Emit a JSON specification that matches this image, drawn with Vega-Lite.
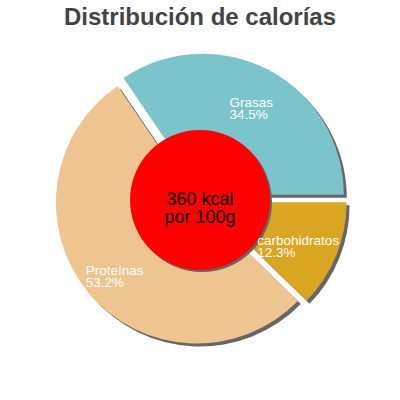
{
  "$schema": "https://vega.github.io/schema/vega-lite/v6.json",
  "width": 400,
  "height": 332,
  "autosize": "none",
  "padding": {"top": 34, "left": 0, "right": 0, "bottom": 0},
  "background": "white",
  "config": {"view": {"stroke": null}},
  "title": {
    "text": "Distribución de calorías",
    "font": "Liberation Sans",
    "fontSize": 24,
    "fontWeight": "bold",
    "color": "#444444",
    "anchor": "middle",
    "frame": "group",
    "offset": 4
  },
  "data": {
    "values": [
      {"nutriente": "carbohidratos", "porcentaje": 12.3, "orden": 1},
      {"nutriente": "Proteínas", "porcentaje": 53.2, "orden": 2},
      {"nutriente": "Grasas", "porcentaje": 34.5, "orden": 3}
    ]
  },
  "transform": [
    {"stack": "porcentaje", "groupby": [], "sort": [{"field": "orden", "order": "ascending"}], "as": ["t0", "t1"]},
    {"calculate": "(datum.t0 + datum.t1) / 2", "as": "tm"},
    {"calculate": "[datum.nutriente, format(datum.porcentaje, '.1f') + '%']", "as": "etiqueta"}
  ],
  "layer": [
    {
      "transform": [{"filter": "datum.nutriente == 'Grasas'"}],
      "mark": {"type": "arc", "outerRadius": 141, "color": "#666666", "xOffset": 5.8, "yOffset": -2.3},
      "encoding": {
        "theta": {"field": "t0", "type": "quantitative", "scale": {"domain": [0, 100], "range": [1.5707963, 7.8539816]}},
        "theta2": {"field": "t1"}
      }
    },
    {
      "transform": [{"filter": "datum.nutriente == 'carbohidratos'"}],
      "mark": {"type": "arc", "outerRadius": 141, "color": "#666666", "xOffset": 8.6, "yOffset": 5.3},
      "encoding": {
        "theta": {"field": "t0", "type": "quantitative"},
        "theta2": {"field": "t1"}
      }
    },
    {
      "transform": [{"filter": "datum.nutriente == 'Proteínas'"}],
      "mark": {"type": "arc", "outerRadius": 141, "color": "#666666", "xOffset": -0.1, "yOffset": 5.6},
      "encoding": {
        "theta": {"field": "t0", "type": "quantitative"},
        "theta2": {"field": "t1"}
      }
    },
    {
      "transform": [{"filter": "datum.nutriente == 'Grasas'"}],
      "mark": {"type": "arc", "outerRadius": 141, "color": "#7BC4CC", "xOffset": 2.8, "yOffset": -5.3},
      "encoding": {
        "theta": {"field": "t0", "type": "quantitative"},
        "theta2": {"field": "t1"}
      }
    },
    {
      "transform": [{"filter": "datum.nutriente == 'carbohidratos'"}],
      "mark": {"type": "arc", "outerRadius": 141, "color": "#DAA520", "xOffset": 5.6, "yOffset": 2.3},
      "encoding": {
        "theta": {"field": "t0", "type": "quantitative"},
        "theta2": {"field": "t1"}
      }
    },
    {
      "transform": [{"filter": "datum.nutriente == 'Proteínas'"}],
      "mark": {"type": "arc", "outerRadius": 141, "color": "#EEC591", "xOffset": -3.1, "yOffset": 2.6},
      "encoding": {
        "theta": {"field": "t0", "type": "quantitative"},
        "theta2": {"field": "t1"}
      }
    },
    {
      "data": {"values": [{"energia": "360 kcal", "referencia": "por 100g"}]},
      "mark": {"type": "arc", "theta": 0, "theta2": 6.2831853, "outerRadius": 70, "color": "#666666", "xOffset": 2, "yOffset": 2},
      "encoding": {}
    },
    {
      "data": {"values": [{"energia": "360 kcal", "referencia": "por 100g"}]},
      "mark": {"type": "arc", "theta": 0, "theta2": 6.2831853, "outerRadius": 70, "color": "#FF0000"},
      "encoding": {}
    },
    {
      "data": {"values": [{"energia": "360 kcal", "referencia": "por 100g"}]},
      "transform": [{"calculate": "[datum.energia, datum.referencia]", "as": "lineas"}],
      "mark": {"type": "text", "font": "Liberation Sans", "fontSize": 18, "lineHeight": 18, "align": "center", "baseline": "middle", "color": "black"},
      "encoding": {"text": {"field": "lineas"}}
    },
    {
      "transform": [{"filter": "datum.nutriente == 'Grasas'"}],
      "mark": {"type": "text", "radius": 104, "xOffset": 2.8, "yOffset": -5.3, "dx": -22, "align": "left", "baseline": "middle", "font": "Liberation Sans", "fontSize": 13.5, "lineHeight": 12, "color": "white"},
      "encoding": {
        "theta": {"field": "tm", "type": "quantitative"},
        "text": {"field": "etiqueta"}
      }
    },
    {
      "transform": [{"filter": "datum.nutriente == 'carbohidratos'"}],
      "mark": {"type": "text", "radius": 104, "xOffset": 5.6, "yOffset": 2.3, "dx": -44.6, "align": "left", "baseline": "middle", "font": "Liberation Sans", "fontSize": 13.5, "lineHeight": 12, "color": "white"},
      "encoding": {
        "theta": {"field": "tm", "type": "quantitative"},
        "text": {"field": "etiqueta"}
      }
    },
    {
      "transform": [{"filter": "datum.nutriente == 'Proteínas'"}],
      "mark": {"type": "text", "radius": 104, "xOffset": -3.1, "yOffset": 2.6, "dx": -31.4, "dy": 1.5, "align": "left", "baseline": "middle", "font": "Liberation Sans", "fontSize": 13.5, "lineHeight": 12, "color": "white"},
      "encoding": {
        "theta": {"field": "tm", "type": "quantitative"},
        "text": {"field": "etiqueta"}
      }
    }
  ]
}
